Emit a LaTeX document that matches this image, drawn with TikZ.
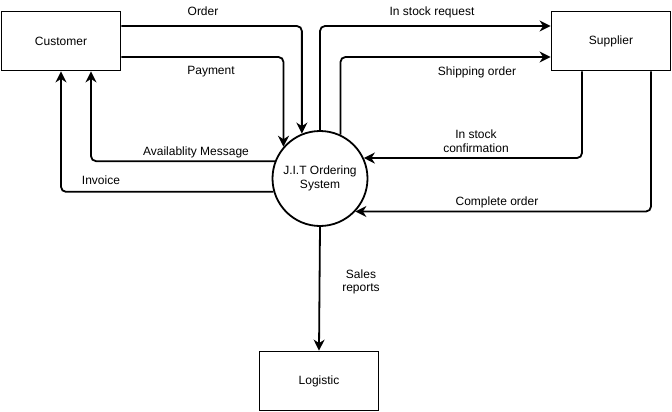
\documentclass[tikz,border=0pt]{standalone}
\usepackage{fontspec}
\setmainfont{Liberation Sans}
\usepackage{tikz}
\usepackage{xcolor}
\usetikzlibrary{arrows.meta}
\tikzset{
    >={Stealth[length=11pt,width=11pt,inset=3.5pt]},
    entity-box/.style = {draw=black, fill=white, line width=1.8pt, rectangle, minimum width=119pt, minimum height=59pt},
    process-circle/.style = {draw=black, fill=white, line width=1.8pt, circle, minimum size=95pt, inner sep=0pt, align=center},
    flow-arrow/.style = {draw=black, line width=1.8pt, rounded corners=5pt, ->},
    flow-label/.style = {align=center, inner sep=0pt},
}

\begin{document}
\begin{tikzpicture}[font=\fontsize{12pt}{13.5pt}\selectfont]
\useasboundingbox (0pt,0pt) rectangle (672pt,-412pt);
% entities and process
\node [entity-box] (cust) at (61pt,-41pt) {Customer};
\node [entity-box] (sup) at (611pt,-41pt) {Supplier};
\node [entity-box] (log) at (319pt,-381pt) {Logistic};
\node [process-circle] (jit) at (320pt,-178.5pt) {J.I.T Ordering\\System};

% customer side
\draw [flow-arrow] ([yshift=15pt]cust.east) -| (jit.112);
\draw [flow-arrow] ([yshift=-16pt]cust.east) -| (jit.139);
\draw [flow-arrow] (jit.159) -| ([xshift=30pt]cust.south);
\draw [flow-arrow] (jit.196) -| (cust.south);

% supplier side
\draw [flow-arrow] (jit.north) |- ([yshift=15pt]sup.west);
\draw [flow-arrow] (jit.65) |- ([yshift=-16pt]sup.west);
\draw [flow-arrow] ([xshift=-29pt]sup.south) |- (jit.25);
\draw [flow-arrow] ([xshift=40pt]sup.south) |- (jit.-43);

% logistic
\draw [flow-arrow] (jit.south) -- (log.north);

% labels
\node [flow-label] (order) at (203pt,-11pt) {Order};
\node [flow-label] (payment) at (211pt,-72pt) {Payment};
\node [flow-label] (avail) at (196pt,-152pt) {Availablity Message};
\node [flow-label] (invoice) at (101pt,-180pt) {Invoice};
\node [flow-label] (stockreq) at (432pt,-12pt) {In stock request};
\node [flow-label] (shipping) at (477pt,-72pt) {Shipping order};
\node [flow-label] (stockconf) at (476pt,-141pt) {In stock\\confirmation};
\node [flow-label] (complete) at (497pt,-202pt) {Complete order};
\node [flow-label] (sales) at (361pt,-282pt) {Sales\\reports};
\end{tikzpicture}
\end{document}
